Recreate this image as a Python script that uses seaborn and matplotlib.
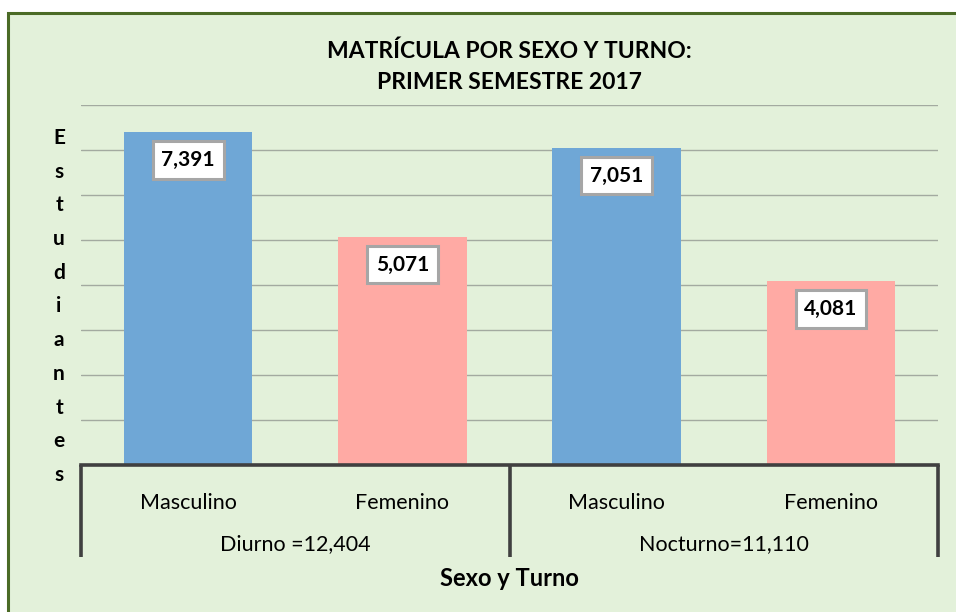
import matplotlib
matplotlib.use("Agg")
import matplotlib.pyplot as plt
import seaborn as sns
import pandas as pd
from matplotlib.patches import Rectangle

# ---- data ----
turnos = ["Diurno", "Diurno", "Nocturno", "Nocturno"]
sexos = ["Masculino", "Femenino", "Masculino", "Femenino"]
valores = [7391, 5071, 7051, 4081]
grupo_labels = ["Diurno =12,404", "Nocturno=11,110"]
title_text = "MATRÍCULA POR SEXO Y TURNO:\nPRIMER SEMESTRE 2017"
ylabel_text = "Estudiantes"
xlabel_text = "Sexo y Turno"

sns.set_theme(style="white")
FONT = ["Lato", "DejaVu Sans"]
plt.rcParams["font.family"] = FONT

W, H = 956, 612
fig = plt.figure(figsize=(W / 100, H / 100), dpi=100, facecolor="white")

# green chart area with dark green border
bg = Rectangle((8 / W, -0.01), 1.02 - 8 / W, 1 - 13 / H + 0.01, transform=fig.transFigure,
               facecolor="#e3f1da", edgecolor="#4b6b26", linewidth=2.2, zorder=-10)
fig.patches.append(bg)

left, right, base, top = 81, 938, 465, 105
ax = fig.add_axes([left / W, 1 - base / H, (right - left) / W, (base - top) / H])
ax.set_facecolor("none")
ax.set_zorder(1)

df = pd.DataFrame({
    "cat": [f"{t} {s}" for t, s in zip(turnos, sexos)],
    "sexo": sexos,
    "valor": valores,
})
palette = {"Masculino": "#6fa7d6", "Femenino": "#ffaaa4"}
sns.barplot(data=df, x="cat", y="valor", hue="sexo", dodge=False, width=0.6,
            palette=palette, saturation=1, legend=False, ax=ax, zorder=3,
            edgecolor="none")

ax.set_ylim(0, 8000)
ax.set_xlim(-0.5, 3.5)
ax.set_yticks(range(0, 8001, 1000))
ax.set_yticklabels([])
ax.tick_params(axis="y", length=0)
ax.grid(axis="y", color="#a3aaa0", linewidth=1.0, zorder=0)
ax.set_axisbelow(True)
for s in ["top", "right", "left"]:
    ax.spines[s].set_visible(False)
ax.spines["bottom"].set_color("#404040")
ax.spines["bottom"].set_linewidth(2.6)
ax.spines["bottom"].set_zorder(5)

ax.set_xticks(range(len(sexos)))
ax.set_xticklabels(sexos, fontsize=15.5, color="black")
ax.tick_params(axis="x", length=0, pad=20)
ax.set_xlabel("")
ax.set_ylabel("")

# group separators
axh = base - top
bottom_frac = -(557 - base) / axh
for xf in [0.0, 0.5, 1.0]:
    ax.plot([xf, xf], [0, bottom_frac], transform=ax.transAxes, color="#404040",
            linewidth=2.6, clip_on=False, solid_capstyle="butt", zorder=5)
for i, lab in enumerate(grupo_labels):
    ax.text(0.25 + 0.5 * i, -(544 - base) / axh, lab, transform=ax.transAxes,
            ha="center", va="center", fontsize=15.5, color="black")

# data labels
for i, v in enumerate(valores):
    ax.annotate(f"{v:,}", xy=(i, v), xytext=(0, -20), textcoords="offset points",
                ha="center", va="center", fontsize=15, fontweight="bold", color="black",
                bbox=dict(boxstyle="square,pad=0.42", facecolor="white",
                          edgecolor="#a6a6a6", linewidth=2.2), zorder=6)

# title
fig.text((left + right) / 2 / W, 1 - 66.5 / H, title_text, ha="center", va="center",
         fontsize=16.5, fontweight="bold", linespacing=1.6, color="black")

# x label
fig.text(509 / W, 1 - 578 / H, xlabel_text, ha="center", va="center",
         fontsize=17, fontweight="bold", color="black")

# vertical stacked y label
n = len(ylabel_text)
y0, y1 = 138, 475
for k, ch in enumerate(ylabel_text):
    yy = y0 + (y1 - y0) * k / (n - 1)
    fig.text(59 / W, 1 - yy / H, ch, ha="center", va="center",
             fontsize=15, fontweight="bold", color="black")

fig.savefig("out.png", dpi=100, facecolor="white")
